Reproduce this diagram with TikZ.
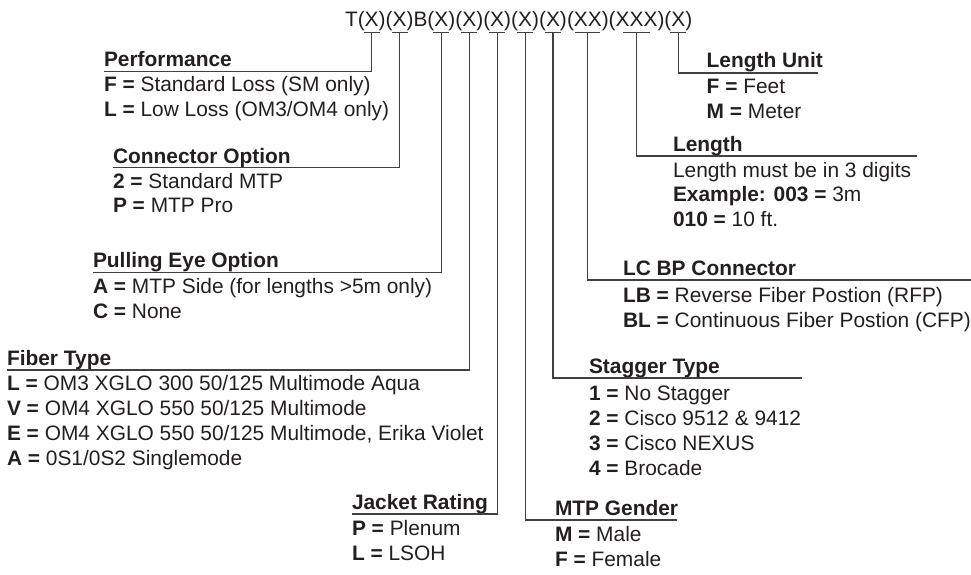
\documentclass[tikz,border=0pt]{standalone}
\usepackage{fontspec}
\setmainfont{Liberation Sans}
\definecolor{txt}{HTML}{231F20}
\definecolor{ln}{HTML}{404040}
\begin{document}
\begin{tikzpicture}[x=1pt,y=-1pt,
  every node/.style={inner sep=0pt, outer sep=0pt, text=txt, font=\fontsize{20.9}{25}\selectfont},
  grp/.style={anchor=base},
  hdr/.style={anchor=base west, font=\fontsize{20.9}{25}\selectfont\bfseries},
  itm/.style={anchor=base west},
  conn/.style={draw=ln, line width=1.1pt},
]
\useasboundingbox (0,0) rectangle (971,575);
% code
\node[grp] (g1) at (371.7,27) {(X)};
\node[anchor=base east] (cT) at (g1.base west) {T};
\node[grp] (g2) at (399.6,27) {(X)};
\node[anchor=base west] (cB) at (g2.base east) {B};
\node[grp] (g3) at (441.4,27) {(X)};
\node[grp] (g4) at (469.3,27) {(X)};
\node[grp] (g5) at (497.2,27) {(X)};
\node[grp] (g6) at (525.1,27) {(X)};
\node[grp] (g7) at (553,27) {(X)};
\node[grp] (g8) at (587.9,27) {(XX)};
\node[grp] (g9) at (636.6,27) {(XXX)};
\node[grp] (g10) at (678.4,27) {(X)};
\foreach \i in {1,...,10} {\coordinate (t\i) at ([yshift=-5.7pt]g\i.base);}
\foreach \i in {1,...,7,10} {\draw[conn] ([xshift=-8pt]t\i) -- ([xshift=8pt]t\i);}
\draw[conn] ([xshift=-12.5pt]t8) -- ([xshift=12.5pt]t8);
\draw[conn] ([xshift=-13.5pt]t9) -- ([xshift=13.5pt]t9);

% Performance
\node[hdr] (hPerf) at (104,66.7) {Performance};
\node[itm] (perfF) at (104,91.7) {\textbf{F =} Standard Loss (SM only)};
\node[itm] (perfL) at (104,116.7) {\textbf{L =} Low Loss (OM3/OM4 only)};
\coordinate (lPerf) at (104,71.7);
\draw[conn] (t1) |- (lPerf);
% Connector option
\node[hdr] (hConn) at (113,163) {Connector Option};
\node[itm] (conn2) at (113,188) {\textbf{2 =} Standard MTP};
\node[itm] (connP) at (113,212.5) {\textbf{P =} MTP Pro};
\coordinate (lConn) at (113,167.7);
\draw[conn] (t2) |- (lConn);
% Pulling eye
\node[hdr] (hPull) at (93,267.5) {Pulling Eye Option};
\node[itm] (pullA) at (93,293) {\textbf{A =} MTP Side (for lengths >5m only)};
\node[itm] (pullC) at (93,318) {\textbf{C =} None};
\coordinate (lPull) at (93,272.7);
\draw[conn] (t3) |- (lPull);
% Fiber type
\node[hdr] (hFib) at (7,365) {Fiber Type};
\node[itm] (fibL) at (7,390) {\textbf{L =} OM3 XGLO 300 50/125 Multimode Aqua};
\node[itm] (fibV) at (7,415) {\textbf{V =} OM4 XGLO 550 50/125 Multimode};
\node[itm] (fibE) at (7,440) {\textbf{E =} OM4 XGLO 550 50/125 Multimode, Erika Violet};
\node[itm] (fibA) at (7,465) {\textbf{A =} 0S1/0S2 Singlemode};
\coordinate (lFib) at (7,370);
\draw[conn] (t4) |- (lFib);
% Jacket
\node[hdr] (hJack) at (352,509) {Jacket Rating};
\node[itm] (jackP) at (352,535) {\textbf{P =} Plenum};
\node[itm] (jackL) at (352,560) {\textbf{L =} LSOH};
\coordinate (lJack) at (352,514);
\draw[conn] (t5) |- (lJack);
% MTP gender
\node[hdr] (hGen) at (555,515) {MTP Gender};
\node[itm] (genM) at (555,541) {\textbf{M =} Male};
\node[itm] (genF) at (555,566) {\textbf{F =} Female};
\coordinate (lGen) at (677,520);
\draw[conn] (t6) |- (lGen);
% Stagger
\node[hdr] (hStag) at (589,373) {Stagger Type};
\node[itm] (stag1) at (589,400) {\textbf{1 =} No Stagger};
\node[itm] (stag2) at (589,425) {\textbf{2 =} Cisco 9512 \& 9412};
\node[itm] (stag3) at (589,450) {\textbf{3 =} Cisco NEXUS};
\node[itm] (stag4) at (589,475) {\textbf{4 =} Brocade};
\coordinate (lStag) at (802,378);
\draw[conn] (t7) |- (lStag);
% LC BP
\node[hdr] (hLC) at (623,275) {LC BP Connector};
\node[itm] (lcLB) at (623,302) {\textbf{LB =} Reverse Fiber Postion (RFP)};
\node[itm] (lcBL) at (623,327) {\textbf{BL =} Continuous Fiber Postion (CFP)};
\coordinate (lLC) at (971,280);
\draw[conn] (t8) |- (lLC);
% Length
\node[hdr] (hLen) at (673,151) {Length};
\node[itm] (len1) at (673,177) {Length must be in 3 digits};
\node[itm] (len2) at (673,201) {\textbf{Example: 003 =} 3m};
\node[itm] (len3) at (673,226) {\textbf{010 =} 10 ft.};
\coordinate (lLen) at (917,156);
\draw[conn] (t9) |- (lLen);
% Length unit
\node[hdr] (hUnit) at (706.7,68) {Length Unit};
\node[itm] (unitF) at (706.7,93.5) {\textbf{F =} Feet};
\node[itm] (unitM) at (706.7,118.5) {\textbf{M =} Meter};
\coordinate (lUnit) at (818,73);
\draw[conn] (t10) |- (lUnit);
\end{tikzpicture}
\end{document}
